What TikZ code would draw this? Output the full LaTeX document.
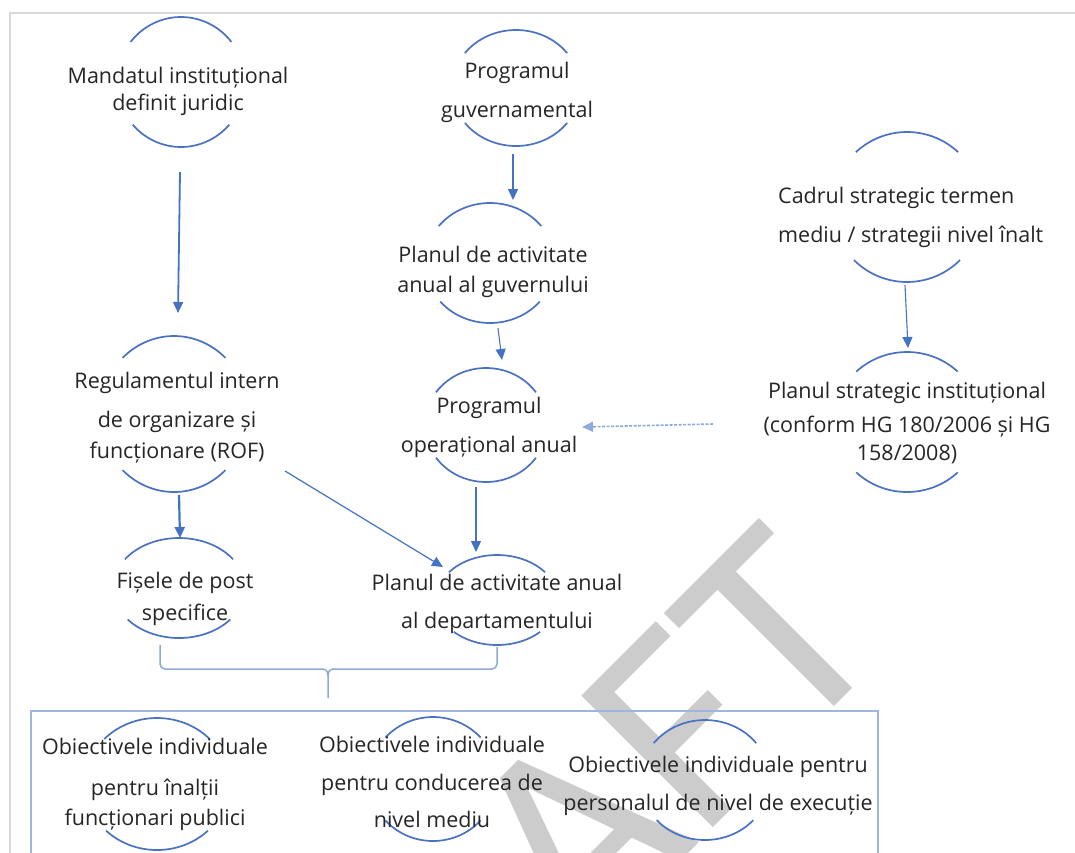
\documentclass[tikz,border=0pt]{standalone}
\usepackage{fontspec}
\setmainfont{Open Sans}
\newfontfamily\wmfont{Carlito}
\usetikzlibrary{arrows.meta,calc,shapes.geometric}
\definecolor{arcblue}{HTML}{4A72C2}
\definecolor{arrblue}{HTML}{4472C4}
\definecolor{lightblue}{HTML}{8EAADB}
\definecolor{boxblue}{HTML}{9DB5E0}
\definecolor{framegray}{HTML}{D9D9D9}
\definecolor{txt}{HTML}{262626}
\definecolor{wmgray}{HTML}{CCCCCC}
\newcommand\ovl[8]{% name cx cy width height topdomain botdomain xradius
  \node[oval,minimum width=#4pt,minimum height=#5pt] (#1) at (#2,#3) {};
  \draw[arcline,domain=#6,samples=40,variable=\t] plot ({#2+#8*cos(\t)},{#3+#5/2*sin(\t)});
  \draw[arcline,domain=#7,samples=40,variable=\t] plot ({#2+#8*cos(\t)},{#3+#5/2*sin(\t)});
}
\begin{document}
\begin{tikzpicture}[x=1pt,y=-1pt,
  oval/.style={shape=ellipse,inner sep=0pt,outer sep=0pt},
  arcline/.style={draw=arcblue,line width=1.7pt},
  lbl/.style={font=\fontsize{21.5}{28}\selectfont,text=txt,inner sep=0pt,align=center,anchor=base},
  arrthick/.style={draw=arrblue,line width=1.8pt,-{Triangle[length=11pt,width=10pt]}},
  arrthin/.style={draw=arrblue,line width=1.1pt,-{Triangle[length=11pt,width=10pt]}},
  arrlight/.style={draw=lightblue,line width=1.2pt,-{Triangle[length=11pt,width=10pt]},arrblue},
  arrdot/.style={draw=lightblue,line width=1.6pt,dash pattern=on 3pt off 1.5pt,-{Triangle[length=11pt,width=10pt]}},
  brace/.style={draw=lightblue,line width=1.5pt},
  boxline/.style={draw=boxblue,line width=1.5pt},
  frameline/.style={draw=framegray,line width=1.6pt}]
\useasboundingbox (0,0) rectangle (1075,852);
\fill[white] (0,0) rectangle (1075,852);
\begin{scope}
\clip (0,0) rectangle (1075,852);
\node[text=wmgray,inner sep=0pt,anchor=base east,rotate=45,font=\wmfont\fontsize{290}{290}\selectfont] (wmk) at (894,647) {DRAFT};
\draw[frameline] (10,860) -- (10,13) -- (1080,13);
\draw[boxline] (31,870) -- (31,711) -- (878,711) -- (878,870);
% oval arcs
\ovl{c1}{181}{82}{128}{130}{218:322}{41:139}{64}
\ovl{c2}{516}{88}{128}{116}{217:323}{37:143}{64}
\ovl{c3}{490}{263}{130}{120}{218:322}{40:140}{65}
\ovl{c4}{486}{425}{122}{114}{215:325}{35:145}{61}
\ovl{c5}{497}{600}{122}{90}{218:322}{45:135}{61}
\ovl{c6}{907}{207}{150}{150}{227:313}{45:135}{75}
\ovl{c7}{907}{422}{146}{140}{226:314}{46:134}{73}
\ovl{c8}{174}{414}{148}{156}{226:314}{46:134}{74}
\ovl{c9}{179}{588}{132}{100}{215:325}{39:141}{66}
\ovl{c11}{157}{784}{144}{132}{223:317}{45:135}{72}
\ovl{c12}{433}{779}{128}{124}{222:318}{42:138}{64}
\ovl{c13}{705}{780}{130}{120}{218:322}{42:138}{65}
\end{scope}
% texts (anchor = baseline of the last line)
\node[lbl] (t1) at (178,110) {Mandatul instituțional\\[-1pt]definit juridic};
\node[lbl] (t2) at (517,117) {Programul\\[11pt]guvernamental};
\node[lbl] (t3) at (493,292) {Planul de activitate\\[2pt]anual al guvernului};
\node[lbl] (t4) at (489,452) {Programul\\[11pt]operațional anual};
\node[lbl] (t5) at (497,628) {Planul de activitate anual\\[10pt]al departamentului};
\node[lbl,align=left,anchor=base west] (t6) at (778,242) {Cadrul strategic termen\\[11pt]mediu / strategii nivel înalt};
\node[lbl] (t7) at (907,460) {Planul strategic instituțional\\[6pt](conform HG 180/2006 și HG\\[0pt]158/2008)};
\node[lbl] (t8) at (177,458) {Regulamentul intern\\[11pt]de organizare și\\[3pt]funcționare (ROF)};
\node[lbl] (t9) at (185,620) {Fișele de post\\[4pt]specifice};
\node[lbl] (t11) at (155,825) {Obiectivele individuale\\[13pt]pentru înalții\\[2pt]funcționari publici};
\node[lbl] (t12) at (432,827) {Obiectivele individuale\\[10pt]pentru conducerea de\\[9pt]nivel mediu};
\node[lbl] (t13) at (718,810) {Obiectivele individuale pentru\\[10pt]personalul de nivel de execuție};
% connectors
\draw[arrthick] ($(c1.south)+(-1,25)$) -- ($(c8.north)+(4,-23)$);
\draw[arrthin] ($(c2.south)+(-3,8)$) -- ($(c3.north)+(23,-3)$);
\draw[arrthin] ($(c3.south)+(8,5)$) -- ($(c4.north)+(16,-8)$);
\draw[arrthin] ($(c6.south)+(-2,3)$) -- ($(c7.north)+(1,-4)$);
\draw[arrdot] ($(c7.west)+(-121,2)$) -- ($(c4.east)+(35,2)$);
\draw[arrthin] ($(c4.south)+(-10,5)$) -- ($(c5.north)+(-21,-3)$);
\draw[arrthick,line width=2.2pt] ($(c8.south)+(5,3)$) -- ($(c9.north)+(1,0)$);
\draw[arrlight] ($(c8.east)+(37,57)$) -- ($(c5.west)+(7,-33)$);
% brace
\coordinate (brL) at ($(c9.south)+(-19,7)$);
\coordinate (brR) at ($(c5.south)+(0,2)$);
\coordinate (brT) at (328,698);
\draw[brace,rounded corners=5pt] (brL) -- (brL |- 0,669) -- (322,669);
\draw[brace] (322,669) .. controls (326,669) and (328,671) .. (328,676) -- (brT);
\draw[brace,rounded corners=5pt] (brR) -- (brR |- 0,669) -- (334,669);
\draw[brace] (334,669) .. controls (330,669) and (328,671) .. (328,676);
\end{tikzpicture}
\end{document}
